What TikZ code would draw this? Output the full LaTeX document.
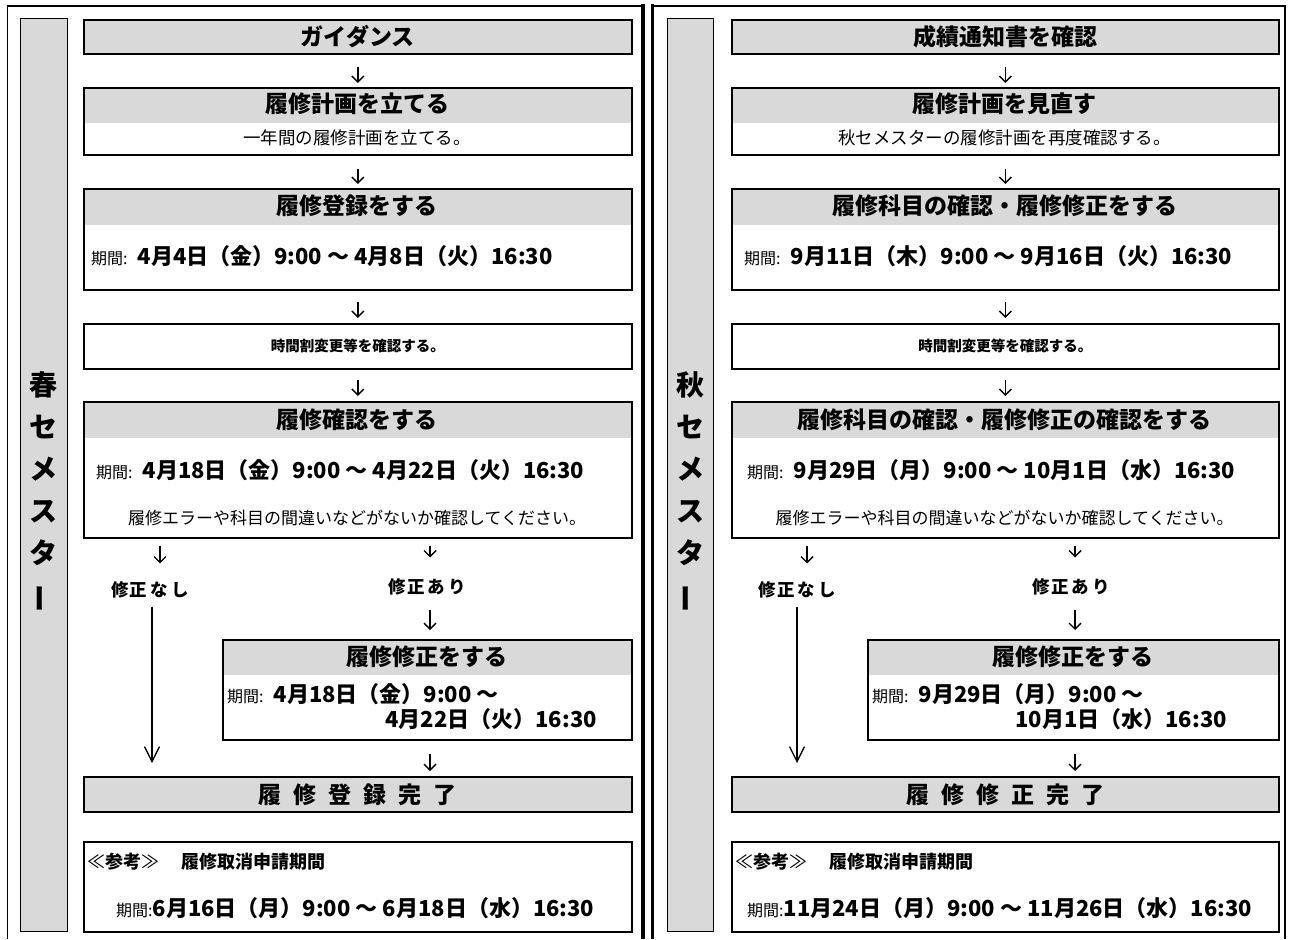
\documentclass[tikz,border=0pt]{standalone}
\usepackage{fontspec}
\setmainfont{Noto Sans CJK JP}
\usetikzlibrary{arrows.meta}
\definecolor{hdr}{RGB}{217,217,217}
\newcommand{\fs}[1]{\fontsize{#1pt}{#1pt}\selectfont}
\newcommand{\kikan}{{\fs{16}\mdseries 期間:}\hspace{10pt}}
\newcommand{\vbar}{\rotatebox[origin=c]{90}{ー}}
\begin{document}
\begin{tikzpicture}[x=1pt,y=-1pt,
  box/.style={draw,line width=1.6pt,anchor=north west,inner sep=0pt},
  hbox/.style={box,path picture={\fill[hdr] (path picture bounding box.north west) rectangle ([yshift=-#1]path picture bounding box.north east);}},
  gbox/.style={box,fill=hdr},
  side/.style={draw,line width=1.3pt,fill=hdr,anchor=north west,inner sep=0pt},
  hd/.style={font=\fs{23}\bfseries,inner sep=1pt},
  body/.style={font=\fs{17.5},inner sep=1pt},
  per/.style={font=\fs{22}\bfseries,inner sep=1pt},
  lbl/.style={font=\fs{17.5}\bfseries,inner sep=2pt},
  stxt/.style={font=\fontsize{28pt}{42pt}\selectfont\bfseries,align=center,inner sep=0pt},
  dn/.style={line width=1.4pt,-{Straight Barb[length=6pt,width=12pt]},shorten <=12pt,shorten >=4pt},
  longarr/.style={line width=1.3pt,-{Straight Barb[length=15pt,width=15pt]}},
]
\useasboundingbox (0,0) rectangle (1289,939);
\fill[white] (0,0) rectangle (1289,939);
% outer frames
\draw[line width=1pt] (7,939) -- (7,6);
\draw[line width=1.4pt] (6.5,6) -- (643,6);
\draw[line width=4pt] (643,4) -- (643,939);
\draw[line width=3.6pt] (652.5,4.2) -- (652.5,939);
\draw[line width=1.4pt] (652,6) -- (1285.6,6);
\draw[line width=1.3pt] (1285,5.3) -- (1285,939);

% ================= LEFT PANEL =================
\node[side,minimum width=47pt,minimum height=913pt] (Lside) at (20,18) {};
\node[stxt] (Lst) at (43.5,492) {春\\セ\\メ\\ス\\タ\\\vbar};

\node[gbox,minimum width=548pt,minimum height=34pt] (L1) at (83,19) {\fs{23}\bfseries ガイダンス};

\node[hbox=35pt,minimum width=548pt,minimum height=67pt] (L2) at (83,87) {};
\node[hd] (L2h) at (357,104) {履修計画を立てる};
\node[body] (L2b) at (357,138) {一年間の履修計画を立てる。};

\node[hbox=36pt,minimum width=548pt,minimum height=101pt] (L3) at (83,188) {};
\node[hd] (L3h) at (357,206) {履修登録をする};
\node[per,anchor=west] (L3p) at (90,256) {\kikan 4月4日（金）9:00 ～ 4月8日（火）16:30};

\node[box,minimum width=548pt,minimum height=45pt] (L4) at (83,323) {\fs{14.5}\bfseries 時間割変更等を確認する。};

\node[hbox=36pt,minimum width=548pt,minimum height=136pt] (L5) at (83,401) {};
\node[hd] (L5h) at (357,420) {履修確認をする};
\node[per,anchor=west] (L5p) at (95,470) {\kikan 4月18日（金）9:00 ～ 4月22日（火）16:30};
\node[body,font=\fs{17}] (L5n) at (357,518) {履修エラーや科目の間違いなどがないか確認してください。};

\node[lbl] (Lnn) at (150,590) {修\hspace{1pt}正\hspace{3pt}な\hspace{3pt}し};
\node[lbl] (Lna) at (427,587) {修\hspace{1pt}正\hspace{3pt}あ\hspace{3pt}り};

\node[hbox=35pt,minimum width=409pt,minimum height=100pt] (L6) at (222,639) {};
\node[hd] (L6h) at (426.5,657) {履修修正をする};
\node[per,anchor=west] (L6p1) at (226,694) {\kikan 4月18日（金）9:00 ～};
\node[per,anchor=east] (L6p2) at (598,719) {4月22日（火）16:30};

\node[gbox,minimum width=548pt,minimum height=35pt] (L7) at (83,776) {\fs{23}\bfseries 履\hspace{12pt}修\hspace{12pt}登\hspace{12pt}録\hspace{12pt}完\hspace{12pt}了};

\node[box,minimum width=548pt,minimum height=90pt] (L8) at (83,841) {};
\node[anchor=west,inner sep=1pt] (L8a) at (86,862) {\fs{18}≪{\bfseries 参考}≫\hspace{22pt}{\bfseries 履修取消申請期間}};
\node[per,anchor=west] (L8b) at (115,908) {{\fs{16}\mdseries 期間:}6月16日（月）9:00 ～ 6月18日（水）16:30};

\coordinate (Lx1) at (160,0);
\coordinate (Lx2) at (430,0);
\coordinate (Lx3) at (152,0);
\draw[dn] (L1) -- (L2);
\draw[dn,shorten <=13pt,shorten >=4pt] (L2) -- (L3);
\draw[dn,shorten <=11pt,shorten >=5pt] (L3) -- (L4);
\draw[dn,shorten <=10pt,shorten >=5pt] (L4) -- (L5);
\draw[dn,shorten <=7pt,shorten >=16pt] (L5.south -| Lx1) -- (Lnn.north -| Lx1);
\draw[dn,shorten <=7pt,shorten >=19pt] (L5.south -| Lx2) -- (Lna.north -| Lx2);
\draw[dn,shorten <=12pt,shorten >=9pt] (Lna.south -| Lx2) -- (L6.north -| Lx2);
\draw[longarr,shorten <=6pt,shorten >=13pt] (Lnn.south -| Lx3) -- (L7.north -| Lx3);
\draw[dn,shorten <=13pt,shorten >=5pt] (L6.south -| Lx2) -- (L7.north -| Lx2);

% ================= RIGHT PANEL =================
\node[side,minimum width=46pt,minimum height=913pt] (Rside) at (667,18) {};
\node[stxt] (Rst) at (690,492) {秋\\セ\\メ\\ス\\タ\\\vbar};

\node[gbox,minimum width=547pt,minimum height=34pt] (R1) at (731,19) {\fs{23}\bfseries 成績通知書を確認};

\node[hbox=35pt,minimum width=547pt,minimum height=67pt] (R2) at (731,87) {};
\node[hd] (R2h) at (1004.5,104) {履修計画を見直す};
\node[body] (R2b) at (1004.5,138) {秋セメスターの履修計画を再度確認する。};

\node[hbox=36pt,minimum width=547pt,minimum height=101pt] (R3) at (731,188) {};
\node[hd] (R3h) at (1004.5,206) {履修科目の確認・履修修正をする};
\node[per,anchor=west] (R3p) at (743,256) {\kikan 9月11日（木）9:00 ～ 9月16日（火）16:30};

\node[box,minimum width=547pt,minimum height=45pt] (R4) at (731,323) {\fs{14.5}\bfseries 時間割変更等を確認する。};

\node[hbox=36pt,minimum width=547pt,minimum height=136pt] (R5) at (731,401) {};
\node[hd] (R5h) at (1004.5,420) {履修科目の確認・履修修正の確認をする};
\node[per,anchor=west] (R5p) at (746,470) {\kikan 9月29日（月）9:00 ～ 10月1日（水）16:30};
\node[body,font=\fs{17}] (R5n) at (1004.5,518) {履修エラーや科目の間違いなどがないか確認してください。};

\node[lbl] (Rnn) at (797,590) {修\hspace{1pt}正\hspace{3pt}な\hspace{3pt}し};
\node[lbl] (Rna) at (1071,587) {修\hspace{1pt}正\hspace{3pt}あ\hspace{3pt}り};

\node[hbox=35pt,minimum width=411pt,minimum height=100pt] (R6) at (867,639) {};
\node[hd] (R6h) at (1072.5,657) {履修修正をする};
\node[per,anchor=west] (R6p1) at (871,694) {\kikan 9月29日（月）9:00 ～};
\node[per,anchor=east] (R6p2) at (1228,719) {10月1日（水）16:30};

\node[gbox,minimum width=547pt,minimum height=35pt] (R7) at (731,776) {\fs{23}\bfseries 履\hspace{12pt}修\hspace{12pt}修\hspace{12pt}正\hspace{12pt}完\hspace{12pt}了};

\node[box,minimum width=547pt,minimum height=90pt] (R8) at (731,841) {};
\node[anchor=west,inner sep=1pt] (R8a) at (734,862) {\fs{18}≪{\bfseries 参考}≫\hspace{22pt}{\bfseries 履修取消申請期間}};
\node[per,anchor=west] (R8b) at (746,908) {{\fs{16}\mdseries 期間:}11月24日（月）9:00 ～ 11月26日（水）16:30};

\coordinate (Rx1) at (807,0);
\coordinate (Rx2) at (1075,0);
\coordinate (Rx3) at (797,0);
\draw[dn] (R1) -- (R2);
\draw[dn,shorten <=13pt,shorten >=4pt] (R2) -- (R3);
\draw[dn,shorten <=11pt,shorten >=5pt] (R3) -- (R4);
\draw[dn,shorten <=10pt,shorten >=5pt] (R4) -- (R5);
\draw[dn,shorten <=7pt,shorten >=16pt] (R5.south -| Rx1) -- (Rnn.north -| Rx1);
\draw[dn,shorten <=7pt,shorten >=19pt] (R5.south -| Rx2) -- (Rna.north -| Rx2);
\draw[dn,shorten <=12pt,shorten >=9pt] (Rna.south -| Rx2) -- (R6.north -| Rx2);
\draw[longarr,shorten <=6pt,shorten >=13pt] (Rnn.south -| Rx3) -- (R7.north -| Rx3);
\draw[dn,shorten <=13pt,shorten >=5pt] (R6.south -| Rx2) -- (R7.north -| Rx2);
\end{tikzpicture}
\end{document}
